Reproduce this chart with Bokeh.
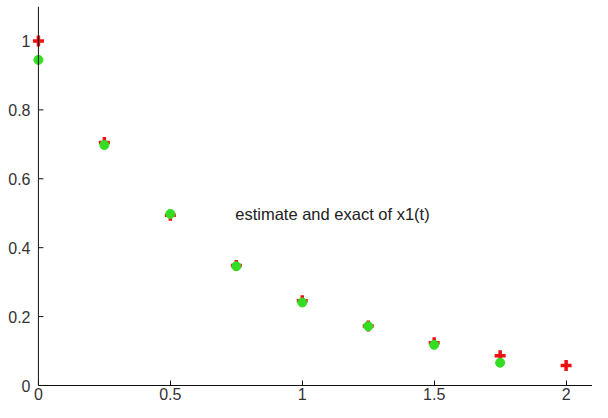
from bokeh.plotting import figure
from bokeh.models import Range1d, FixedTicker, Label, Span
from bokeh.embed import file_html
from bokeh.resources import INLINE

# data
t = [0.0, 0.25, 0.5, 0.75, 1.0, 1.25, 1.5, 1.75, 2.0]
exact = [1.0, 0.705, 0.494, 0.348, 0.246, 0.173, 0.124, 0.086, 0.058]
t_est = [0.0, 0.25, 0.5, 0.75, 1.0, 1.25, 1.5, 1.75]
estimate = [0.945, 0.698, 0.498, 0.346, 0.241, 0.172, 0.118, 0.066]
x_ticks = [0, 0.5, 1, 1.5, 2]
x_labels = ["0", "0.5", "1", "1.5", "2"]
y_ticks = [0, 0.2, 0.4, 0.6, 0.8, 1]
y_labels = ["0", "0.2", "0.4", "0.6", "0.8", "1"]
annotation = "estimate and exact of x1(t)"

X_END = 2.10
AXIS_COLOR = "#111111"
p = figure(width=592, height=402, output_backend="svg", toolbar_location=None,
           x_range=Range1d(-0.03, X_END), y_range=Range1d(0, 1.1),
           min_border_left=30, min_border_right=0, min_border_top=6, min_border_bottom=10)
p.outline_line_color = None
p.xgrid.visible = False
p.ygrid.visible = False
p.background_fill_color = "white"
p.border_fill_color = "white"

for ax, ticks, labels in ((p.xaxis[0], x_ticks, x_labels), (p.yaxis[0], y_ticks, y_labels)):
    ax.ticker = FixedTicker(ticks=ticks)
    ax.major_label_overrides = {k: v for k, v in zip(ticks, labels)}
    ax.major_tick_in = 5
    ax.major_tick_out = 0
    ax.minor_tick_line_color = None
    ax.axis_line_color = AXIS_COLOR
    ax.major_tick_line_color = AXIS_COLOR
    ax.major_label_text_font = "Liberation Sans"
    ax.major_label_text_font_size = "16px"
    ax.major_label_text_color = "#333333"
    ax.major_label_standoff = 2
p.xaxis[0].bounds = (0, X_END)
# left axis carries only the labels; its line and ticks are drawn at x = 0
p.yaxis[0].axis_line_color = None
p.yaxis[0].major_tick_line_color = None
p.yaxis[0].major_label_standoff = 0

p.add_layout(Span(location=0, dimension="height", line_color=AXIS_COLOR, line_width=1))
p.ray(x=[0] * len(y_ticks), y=y_ticks, length=5, length_units="screen", angle=0,
      line_color=AXIS_COLOR, line_width=1)

p.scatter(t, exact, marker="cross", size=11, line_width=3.5, line_color="#ee1111")
p.scatter(t_est, estimate, marker="circle", size=9, fill_color="#33dd22", line_color="#33dd22")

p.add_layout(Label(x=0.746, y=0.497, text=annotation, text_font="Liberation Sans",
                   text_font_size="16.5px", text_color="#222222", text_baseline="middle",
                   text_align="left"))

open("out.html", "w").write(file_html(p, INLINE))
